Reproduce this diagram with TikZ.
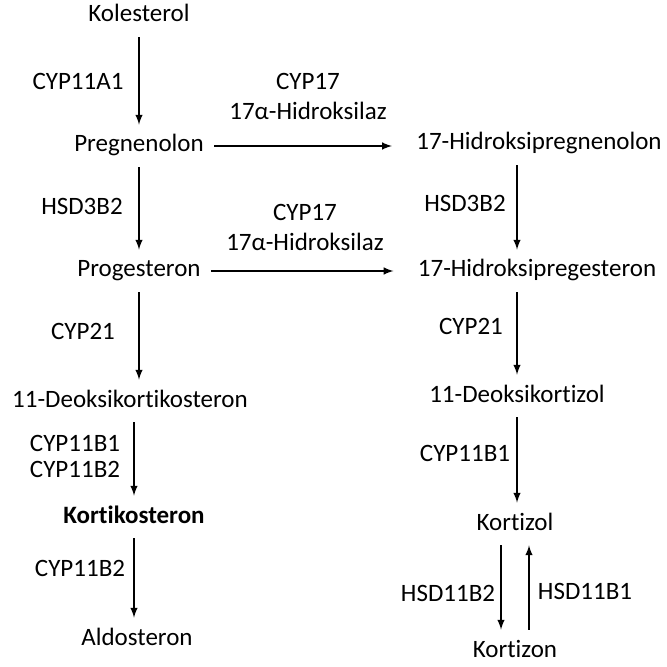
\documentclass[tikz,border=0pt]{standalone}
\usepackage{fontspec}
\setmainfont[Ligatures=NoCommon]{Carlito}
\usetikzlibrary{positioning}
\tikzstyle{compound}=[%
  inner xsep=5pt,
  inner ysep=4.5pt,
  text height=9pt,
  text depth=3pt,
  font=\fontsize{12.5}{15}\selectfont
]
\tikzstyle{enzyme}=[%
  align=center,
  font=\fontsize{12.5}{15}\selectfont
]
\tikzstyle{reaction}=[line width=0.7pt, -latex]

\begin{document}
\begin{tikzpicture}[x=0.5pt, y=-0.5pt]
    \useasboundingbox (0,0) rectangle (666,667);
    % left column
    \node[compound] (kol) at (139, 16) {Kolesterol};
    \node[compound] (preg) at (139, 146) {Pregnenolon};
    \node[compound] (prog) at (139, 271) {Progesteron};
    \node[compound] (deok) at (130, 401) {11-Deoksikortikosteron};
    \node[compound, font=\fontsize{12.5}{15}\selectfont\bfseries] (kort) at (134, 517) {Kortikosteron};
    \node[compound] (aldo) at (137, 639) {Aldosteron};
    % right column
    \node[compound] (ohpreg) at (539, 144) {17-Hidroksipregnenolon};
    \node[compound] (ohprog) at (537, 271) {17-Hidroksipregesteron};
    \node[compound] (dkol) at (517, 396) {11-Deoksikortizol};
    \node[compound] (kzol) at (515, 524) {Kortizol};
    \node[compound] (kzon) at (515, 651) {Kortizon};

    \draw[reaction] (kol) -- (preg);
    \draw[reaction] (preg) -- (prog);
    \draw[reaction] (prog) -- (prog |- deok.north);
    \draw[reaction] (kort |- deok.south) -- (kort);
    \draw[reaction] (kort) -- (kort |- aldo.north);
    \draw[reaction, shorten >=7pt] (preg) -- (preg -| ohpreg.west);
    \draw[reaction, shorten >=7pt] (prog) -- (ohprog);
    \draw[reaction] (ohpreg.south -| dkol) -- (dkol |- ohprog.north);
    \draw[reaction] (ohprog.south -| dkol) -- (dkol);
    \draw[reaction] (dkol) -- (dkol |- kzol.north);
    \draw[reaction] ([xshift=-7pt]kzol.south) -- ([xshift=-7pt]kzon.north);
    \draw[reaction] ([xshift=7pt]kzon.north) -- ([xshift=7pt]kzol.south);

    \node[enzyme] (cyp17a) at (308, 96) {CYP17\\17α-Hidroksilaz};
    \node[enzyme] (cyp17b) at (305, 227) {CYP17\\17α-Hidroksilaz};
    \node[enzyme] (cyp11b) at (75, 456) {CYP11B1\\[-2pt]CYP11B2};
    \foreach \name/\x/\y/\t in {cypa/78/81/CYP11A1, hsdl/82/206/HSD3B2,
      cypl/83/331/CYP21, cypal/80/568/CYP11B2, hsdr/465/203/HSD3B2,
      cypr/471/326/CYP21, cypbr/465/453/CYP11B1, hsdb/448/593/HSD11B2,
      hsda/585/591/HSD11B1} {%
      \node[enzyme] (\name) at (\x, \y) {\t};
    }
\end{tikzpicture}
\end{document}
